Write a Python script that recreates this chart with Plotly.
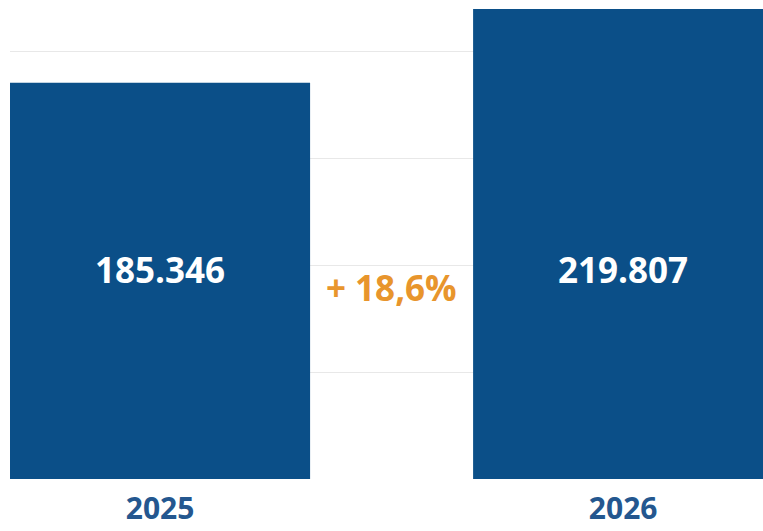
import plotly.graph_objects as go

years = ["2025", "2026"]
values = [185346, 219807]
value_labels = ["185.346", "219.807"]
growth_label = "+ 18,6%"

BAR = "#0b4f88"
TICK = "#24578f"
ORANGE = "#e8952c"
FONT = "Open Sans"

fig = go.Figure()
fig.add_trace(go.Bar(
    x=[0, 1], y=values, width=0.648,
    marker=dict(color=BAR, line=dict(width=0)),
    hoverinfo="skip",
))

for i, lab in enumerate(value_labels):
    fig.add_annotation(x=i, y=98000, xref="x", yref="y", text=f"<b>{lab}</b>",
                       showarrow=False, font=dict(family=FONT, size=35, color="white"))

fig.add_annotation(x=0.5, y=89400, xref="x", yref="y", text=f"<b>{growth_label}</b>",
                   showarrow=False, font=dict(family=FONT, size=35, color=ORANGE))

fig.update_layout(
    width=763, height=531,
    margin=dict(l=10, r=0, t=0, b=52),
    paper_bgcolor="white", plot_bgcolor="white",
    showlegend=False,
    xaxis=dict(range=[-0.324, 1.302], tickvals=[0, 1],
               ticktext=[f"<b>{y}</b>" for y in years],
               tickfont=dict(family=FONT, size=30, color=TICK),
               showgrid=False, zeroline=False, showline=False, ticks="",
               ticklabelstandoff=9, automargin=False),
    yaxis=dict(range=[0, 224000], tickvals=[0, 50000, 100000, 150000, 200000],
               showticklabels=False, showgrid=True, gridcolor="#e8e8e8", gridwidth=1,
               zeroline=False, showline=False, ticks="", automargin=False),
)

fig.write_html("out.html", config={"displayModeBar": False},
               post_script="document.body.style.margin='0';document.body.style.overflow='hidden';")
